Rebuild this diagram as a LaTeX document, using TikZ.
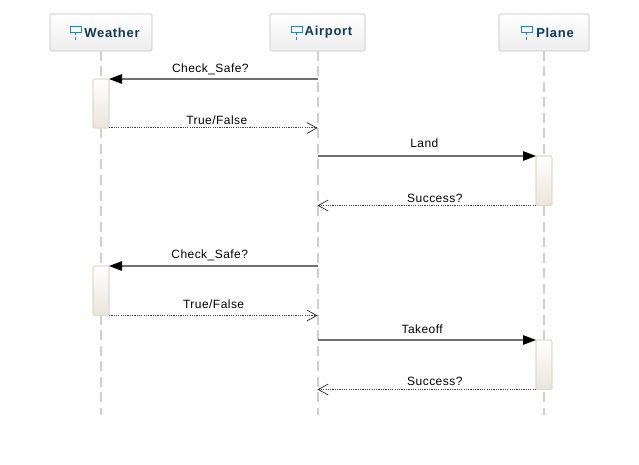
\documentclass[tikz,border=0pt]{standalone}
\usepackage{fontspec}
\setmainfont{Liberation Sans}
\usetikzlibrary{positioning,arrows.meta,calc}

\definecolor{actorblue}{HTML}{0F3A5C}
\definecolor{iconblue}{HTML}{2F7FB5}
\definecolor{boxline}{HTML}{DADADA}
\definecolor{lifegray}{HTML}{CFCFCF}
\definecolor{actline}{HTML}{E0DBCD}
\definecolor{actfill}{HTML}{EAE5DA}
\definecolor{callgray}{HTML}{707070}

\tikzset{
	actor/.style={draw=boxline, line width=1.2pt, rounded corners=2pt, top color=white, bottom color=black!7,
		minimum height=37pt, inner sep=0pt, outer sep=0pt, text=actorblue,
		font=\fontsize{13}{15}\selectfont\bfseries\addfontfeatures{LetterSpace=5.4}},
	lifeline/.style={draw=lifegray, line width=2pt, dash pattern=on 10pt off 5.5pt},
	activation/.style={draw=actline, line width=1.2pt, rounded corners=1.5pt, top color=white, bottom color=actfill,
		minimum width=16pt, inner sep=0pt, outer sep=0pt},
	call/.style={draw=callgray, line width=1.3pt, -{Triangle[length=13pt,width=9.5pt,color=black]}},
	reply/.style={draw=black!75, line width=1pt, dash pattern=on 1.2pt off 1.1pt,
		-{Straight Barb[length=10pt,width=11pt,color=black!85,line width=.7pt]}},
	msg/.style={above=1pt, inner sep=1pt, font=\fontsize{12}{14}\selectfont\addfontfeatures{LetterSpace=3.8}, text=black},
	lifeicon/.pic={
		\draw[iconblue, line width=.9pt] (-5.5,0) rectangle (5.5,6);
		\draw[iconblue, line width=.9pt, densely dashed] (0,6) -- (0,14);
	}
}

\begin{document}
\begin{tikzpicture}[x=1pt,y=-1pt]
	\useasboundingbox (0,0) rectangle (639,465);

	% actors
	\node [actor, minimum width=102pt] (weather) at (101,32.5) {\hspace*{22pt}Weather};
	\node [actor, minimum width=95pt] (airport) at (317.5,32.5) {\hspace*{22pt}Airport};
	\node [actor, minimum width=90pt] (plane) at (544,32.5) {\hspace*{22pt}Plane};
	\pic at (75.5,26) {lifeicon};
	\pic at (296.5,26) {lifeicon};
	\pic at (526.5,26) {lifeicon};

	% lifelines
	\foreach \who in {weather,airport,plane} {
		\coordinate (\who end) at (\who |- 0,415);
		\draw [lifeline] (\who.south) -- (\who end);
	}

	% activations
	\foreach \name/\who/\top/\bot in {wa/weather/79/128, pa/plane/156/205.5, wb/weather/266/315.5, pb/plane/340/389.5} {
		\node [activation, minimum height={\bot-\top}, anchor=north] (\name) at (\who |- 0,\top) {};
	}

	% anchors on the airport lifeline
	\foreach \name/\y in {c1/79, r1/128, c2/156, r2/205.5, c3/266, r3/315.5, c4/340, r4/389.5} {
		\coordinate (\name) at (airport |- 0,\y);
	}

	% messages
	\draw [call] (c1) -- node [msg, pos=.514, yshift=1pt] (m1) {Check\_Safe?} (wa.north east);
	\draw [reply] (wa.south east) -- node [msg, pos=.517, yshift=1pt] (m2) {True/False} (r1);
	\draw [call] (c2) -- node [msg, pos=.489, yshift=6pt] (m3) {Land} (pa.north west);
	\draw [reply] (pa.south west) -- node [msg, pos=.463] (m4) {Success?} (r2);
	\draw [call] (c3) -- node [msg, pos=.517, yshift=2pt] (m5) {Check\_Safe?} (wb.north east);
	\draw [reply] (wb.south east) -- node [msg, pos=.502, yshift=4pt] (m6) {True/False} (r3);
	\draw [call] (c4) -- node [msg, pos=.479, yshift=4pt] (m7) {Takeoff} (pb.north west);
	\draw [reply] (pb.south west) -- node [msg, pos=.463, yshift=1pt] (m8) {Success?} (r4);
\end{tikzpicture}
\end{document}
